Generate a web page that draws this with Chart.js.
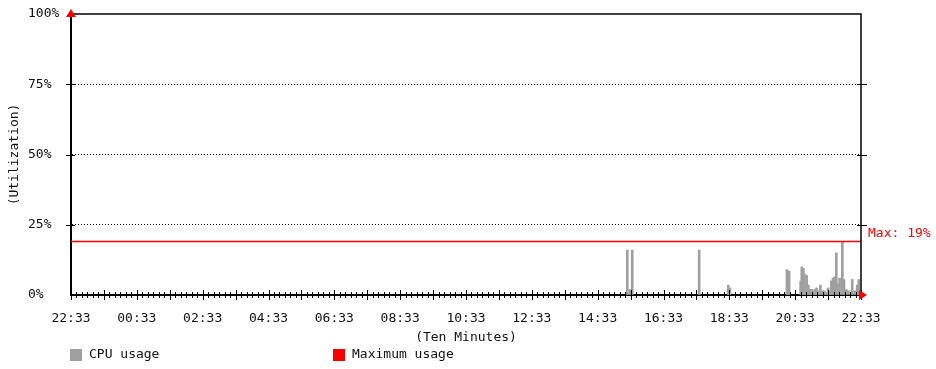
<!DOCTYPE html>
<html lang="en">
<head>
  <meta charset="UTF-8">
  <title>CPU usage</title>
  <style>
    body {
        margin: 0;
        padding: 0;
        background: #fff;
    }
    #wrap {
        width: 936px;
        height: 369px;
    }
  </style>
</head>
<body>
  <div id="wrap">
    <canvas id="cpuChart" width="936" height="369"></canvas>
  </div>

  <script src="https://cdn.jsdelivr.net/npm/chart.js"></script>
  <script>
    // minutes since the start of the window (22:33), one entry per non-zero sample
    const sampleMinutes = [
      1014, 1019, 1023, 1145, 1198, 1201,
      1305, 1309, 1330, 1332, 1335, 1337, 1341, 1344, 1347, 1350, 1353, 1356,
      1359, 1362, 1366, 1370, 1373, 1377, 1380, 1383, 1386, 1389, 1392, 1395,
      1398, 1401, 1406, 1409, 1413, 1417, 1424, 1429, 1433, 1436
    ];
    // CPU utilization in percent at those minutes
    const cpuUsage = [
      16, 2, 16, 16, 3.5, 2.5,
      9, 8.5, 5, 10, 9.5, 7.5, 7, 3.5, 2, 2, 1.5, 2,
      2.5, 1.5, 3.5, 1.5, 1.5, 1, 2.5, 1.5, 5, 6, 6.5, 15,
      4, 6, 19, 5.5, 2, 1.5, 5.5, 1.5, 3.5, 5.5
    ];
    const xTickLabels = ['22:33', '00:33', '02:33', '04:33', '06:33', '08:33', '10:33',
                         '12:33', '14:33', '16:33', '18:33', '20:33', '22:33'];
    const yTickValues = [0, 25, 50, 75, 100];

    const windowMinutes = 1440;
    const maxUsage = Math.max(...cpuUsage);

    const FONT = { family: "'DejaVu Sans Mono', monospace", size: 13 };
    const TEXT = '#111';
    const CPU_GRAY = '#a0a0a0';
    const MAX_RED = '#ff0000';

    // frame, tick marks, arrows, side labels and the legend
    const decorations = {
      id: 'decorations',
      afterDatasetsDraw(chart) {
        const { ctx, chartArea: a, scales: { x, y } } = chart;
        ctx.save();
        ctx.strokeStyle = '#000';

        // top and right border
        ctx.lineWidth = 1.5;
        ctx.beginPath();
        ctx.moveTo(a.left, a.top);
        ctx.lineTo(a.right, a.top);
        ctx.lineTo(a.right, a.bottom);
        ctx.stroke();

        // x axis ticks: every 10 minutes, longer every hour
        ctx.lineWidth = 1;
        for (let m = 0; m <= windowMinutes; m += 10) {
          const px = Math.round(x.getPixelForValue(m)) + 0.5;
          const len = m % 60 === 0 ? 5 : 3;
          ctx.beginPath();
          ctx.moveTo(px, a.bottom - len);
          ctx.lineTo(px, a.bottom + len);
          ctx.stroke();
        }

        // y ticks on both sides
        yTickValues.slice(1, -1).forEach(v => {
          const py = Math.round(y.getPixelForValue(v)) + 0.5;
          ctx.beginPath();
          ctx.moveTo(a.left - 5, py);
          ctx.lineTo(a.left + 4, py);
          ctx.moveTo(a.right - 4, py);
          ctx.lineTo(a.right + 6, py);
          ctx.stroke();
        });

        // red arrow heads
        ctx.fillStyle = MAX_RED;
        ctx.beginPath();
        ctx.moveTo(a.left, a.top - 5);
        ctx.lineTo(a.left - 5, a.top + 3);
        ctx.lineTo(a.left + 5, a.top + 3);
        ctx.closePath();
        ctx.fill();
        ctx.beginPath();
        ctx.moveTo(a.right + 6, a.bottom);
        ctx.lineTo(a.right - 2, a.bottom - 5);
        ctx.lineTo(a.right - 2, a.bottom + 5);
        ctx.closePath();
        ctx.fill();

        ctx.font = `${FONT.size}px ${FONT.family}`;
        ctx.textBaseline = 'middle';

        // max label
        ctx.fillStyle = MAX_RED;
        ctx.textAlign = 'left';
        ctx.fillText('Max: ' + maxUsage + '%', a.right + 7, y.getPixelForValue(maxUsage) - 8);

        // y axis title
        ctx.fillStyle = TEXT;
        ctx.save();
        ctx.translate(15, (a.top + a.bottom) / 2);
        ctx.rotate(-Math.PI / 2);
        ctx.textAlign = 'center';
        ctx.fillText('(Utilization)', 0, 0);
        ctx.restore();

        // legend
        const legendX = [70, 333];
        chart.data.datasets.forEach((ds, i) => {
          ctx.fillStyle = ds.legendColor;
          ctx.fillRect(legendX[i], 349, 12, 12);
          ctx.fillStyle = TEXT;
          ctx.textAlign = 'left';
          ctx.fillText(ds.label, legendX[i] + 19, 355);
        });

        ctx.restore();
      }
    };

    new Chart(document.getElementById('cpuChart'), {
      type: 'bar',
      data: {
        datasets: [{
          label: 'CPU usage',
          data: sampleMinutes.map((m, i) => ({ x: m, y: cpuUsage[i] })),
          backgroundColor: CPU_GRAY,
          legendColor: CPU_GRAY,
          barThickness: 2,
          order: 2
        }, {
          type: 'line',
          label: 'Maximum usage',
          data: [{ x: 0, y: maxUsage }, { x: windowMinutes, y: maxUsage }],
          borderColor: MAX_RED,
          legendColor: MAX_RED,
          borderWidth: 1.5,
          pointRadius: 0,
          order: 1
        }]
      },
      options: {
        responsive: false,
        animation: false,
        layout: { padding: { left: 28, right: 75, top: 14, bottom: 24 } },
        plugins: { legend: { display: false }, tooltip: { enabled: false } },
        scales: {
          x: {
            type: 'linear',
            min: 0,
            max: windowMinutes,
            offset: false,
            grid: { display: false, offset: false, drawTicks: false },
            border: { display: true, color: '#000', width: 2 },
            ticks: {
              stepSize: 120,
              autoSkip: false,
              maxRotation: 0,
              padding: 16,
              color: TEXT,
              font: FONT,
              callback: v => xTickLabels[v / 120]
            },
            title: {
              display: true,
              text: '(Ten Minutes)',
              color: TEXT,
              font: FONT,
              padding: { top: 0, bottom: 0 }
            },
            afterFit(scale) {
              scale.height = 50;
              scale.paddingLeft = 0;
              scale.paddingRight = 0;
            }
          },
          y: {
            min: 0,
            max: 100,
            grid: {
              drawTicks: false,
              color: ctx => (ctx.tick.value === 0 || ctx.tick.value === 100) ? 'rgba(0,0,0,0)' : '#000',
              lineWidth: 1
            },
            border: { display: true, color: '#000', width: 2, dash: [1, 2] },
            ticks: {
              stepSize: 25,
              crossAlign: 'far',
              color: TEXT,
              font: FONT,
              callback: v => yTickValues.includes(v) ? v + '%' : ''
            },
            afterFit(scale) {
              scale.width = 43;
              scale.paddingTop = 0;
              scale.paddingBottom = 0;
            }
          }
        }
      },
      plugins: [decorations]
    });
  </script>
</body>
</html>
